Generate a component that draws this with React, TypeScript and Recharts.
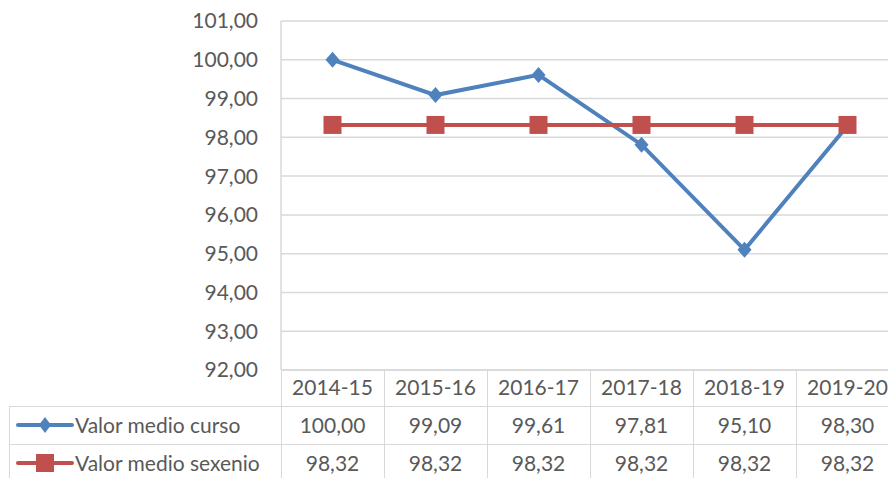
import { CartesianGrid, Line, LineChart, XAxis, YAxis } from "recharts";

const categories = ["2014-15", "2015-16", "2016-17", "2017-18", "2018-19", "2019-20"];
const valorCurso = [100.0, 99.09, 99.61, 97.81, 95.1, 98.3];
const valorSexenio = [98.32, 98.32, 98.32, 98.32, 98.32, 98.32];
const yTicks = [92, 93, 94, 95, 96, 97, 98, 99, 100, 101];

const BLUE = "#4f81bd";
const RED = "#c0504d";
const GRID = "#d9d9d9";
const TEXT = "#595959";
const FONT = "Lato, 'Open Sans', sans-serif";

const data = categories.map((c, i) => ({
  curso: valorCurso[i],
  sexenio: valorSexenio[i],
  name: c,
}));

const fmt = (v: number) => v.toFixed(2).replace(".", ",");

// plot geometry
const PLOT_LEFT = 281;
const PLOT_TOP = 21;
const PLOT_BOTTOM = 370;
const COL_W = 103;
const CHART_W = 910;
const CHART_H = 478;
const Y_AXIS_W = 80;
const X_AXIS_H = 36;

const Diamond = (props: any) => {
  const { cx, cy, index } = props;
  if (cx == null || cy == null) return null;
  return (
    <path
      key={`d-${index}`}
      d={`M${cx},${cy - 8} L${cx + 7},${cy} L${cx},${cy + 8} L${cx - 7},${cy} Z`}
      fill={BLUE}
    />
  );
};

const Square = (props: any) => {
  const { cx, cy, index } = props;
  if (cx == null || cy == null) return null;
  return <rect key={`s-${index}`} x={cx - 9} y={cy - 9} width={18} height={18} fill={RED} />;
};

const rows = [
  { label: "Valor medio curso", values: valorCurso, color: BLUE, marker: "diamond" },
  { label: "Valor medio sexenio", values: valorSexenio, color: RED, marker: "square" },
];

function Key({ color, marker }: { color: string; marker: string }) {
  return (
    <svg width={58} height={20} style={{ position: "absolute", left: 7, top: 9 }}>
      <line x1={2} y1={10} x2={56} y2={10} stroke={color} strokeWidth={4} strokeLinecap="round" />
      {marker === "diamond" ? (
        <path d="M29,2 L35,10 L29,18 L23,10 Z" fill={color} />
      ) : (
        <rect x={20} y={1} width={18} height={18} fill={color} />
      )}
    </svg>
  );
}

function DataTable() {
  const rowTop = [406, 444];
  const colX = categories.map((_, i) => PLOT_LEFT + i * COL_W);
  return (
    <>
      {[...colX, PLOT_LEFT + categories.length * COL_W].map((x, i) => (
        <div
          key={`v-${i}`}
          style={{ position: "absolute", left: x, top: PLOT_BOTTOM, width: 1, height: 120, background: GRID }}
        />
      ))}
      <div style={{ position: "absolute", left: 9, top: rowTop[0], width: 1, height: 80, background: GRID }} />
      {rowTop.map((y, i) => (
        <div
          key={`h-${i}`}
          style={{ position: "absolute", left: 9, top: y, width: 900, height: 1, background: GRID }}
        />
      ))}
      {rows.map((r, ri) => (
        <div key={r.label}>
          <div style={{ position: "absolute", left: 9, top: rowTop[ri], width: 272, height: 38 }}>
            <Key color={r.color} marker={r.marker} />
            <div
              style={{
                position: "absolute",
                left: 66,
                top: 0,
                lineHeight: "38px",
                fontSize: 21,
                color: TEXT,
                fontFamily: FONT,
                whiteSpace: "nowrap",
              }}
            >
              {r.label}
            </div>
          </div>
          {r.values.map((v, i) => (
            <div
              key={i}
              style={{
                position: "absolute",
                left: colX[i],
                top: rowTop[ri],
                width: COL_W,
                height: 38,
                lineHeight: "38px",
                textAlign: "center",
                fontSize: 21,
                color: TEXT,
                fontFamily: FONT,
              }}
            >
              {fmt(v)}
            </div>
          ))}
        </div>
      ))}
    </>
  );
}

export default function App() {
  return (
    <div
      style={{
        position: "absolute",
        left: 0,
        top: 0,
        width: 888,
        height: 478,
        overflow: "hidden",
        background: "#ffffff",
      }}
    >
      <LineChart
        width={CHART_W}
        height={CHART_H}
        data={data}
        margin={{
          top: PLOT_TOP,
          right: CHART_W - (PLOT_LEFT + categories.length * COL_W),
          left: PLOT_LEFT - Y_AXIS_W,
          bottom: CHART_H - PLOT_BOTTOM - X_AXIS_H,
        }}
      >
        <CartesianGrid stroke={GRID} strokeWidth={1.5} vertical={false} />
        <XAxis
          dataKey="name"
          height={X_AXIS_H}
          padding={{ left: COL_W / 2, right: COL_W / 2 }}
          axisLine={{ stroke: GRID, strokeWidth: 1.5 }}
          tickLine={false}
          tickMargin={4}
          interval={0}
          tick={{ fontSize: 21, fill: TEXT, fontFamily: FONT }}
        />
        <YAxis
          width={Y_AXIS_W}
          domain={[92, 101]}
          ticks={yTicks}
          interval={0}
          axisLine={{ stroke: GRID, strokeWidth: 1.5 }}
          tickLine={false}
          tickMargin={17}
          tickFormatter={fmt}
          tick={{ fontSize: 21, fill: TEXT, fontFamily: FONT }}
        />
        <Line
          dataKey="curso"
          stroke={BLUE}
          strokeWidth={4}
          dot={Diamond}
          activeDot={false}
          isAnimationActive={false}
        />
        <Line
          dataKey="sexenio"
          stroke={RED}
          strokeWidth={4}
          dot={Square}
          activeDot={false}
          isAnimationActive={false}
        />
      </LineChart>
      <DataTable />
    </div>
  );
}
